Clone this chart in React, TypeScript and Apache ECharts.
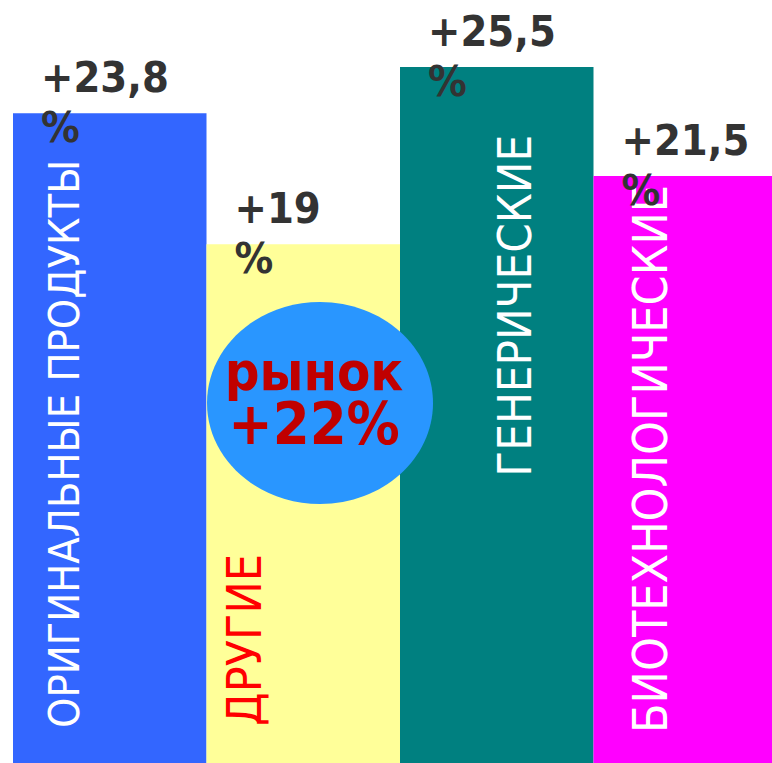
import React, { useEffect, useRef } from "react";
import * as echarts from "echarts";

// Market segments and their growth, %
const categories = [
  "ОРИГИНАЛЬНЫЕ ПРОДУКТЫ",
  "ДРУГИЕ",
  "ГЕНЕРИЧЕСКИЕ",
  "БИОТЕХНОЛОГИЧЕСКИЕ",
];
const growth = [23.8, 19, 25.5, 21.5];
const marketGrowth = 22;
const marketWord = "рынок";

// Styling
const FONT = '"DejaVu Sans Condensed", "DejaVu Sans", sans-serif';
const barColors = ["#3366FF", "#FFFF99", "#008080", "#FF00FF"];
const nameColors = ["#FFFFFF", "#FF0000", "#FFFFFF", "#FFFFFF"];
const nameLayouts: any[] = [
  { position: [51, "100%"], align: "left", padding: [0, 0, 0, 35], fontSize: 43 },
  { position: [37, "100%"], align: "left", padding: [0, 0, 0, 37], fontSize: 48 },
  { position: [114, 68], align: "right", padding: 0, fontSize: 47 },
  { position: [56, "100%"], align: "left", padding: [0, 0, 0, 30], fontSize: 48 },
];

const fmtGrowth = (v: number) => "+" + String(v).replace(".", ",") + "\n%";

export default function App() {
  const ref = useRef<HTMLDivElement>(null);

  useEffect(() => {
    if (!ref.current) return;
    const chart = echarts.init(ref.current, null, { renderer: "svg" });

    const option: any = {
      animation: false,
      backgroundColor: "#FFFFFF",
      grid: {
        left: 13,
        top: 0,
        right: -15,
        bottom: 0,
        containLabel: false,
        outerBoundsMode: "none",
      },
      xAxis: {
        type: "category",
        data: categories,
        show: false,
      },
      yAxis: {
        type: "value",
        min: 0,
        max: 27.95,
        show: false,
        splitLine: { show: false },
      },
      series: [
        {
          name: "segments",
          type: "bar",
          z: 2,
          barGap: "-100%",
          barCategoryGap: 0,
          data: growth.map((v, i) => ({
            value: v,
            itemStyle: { color: barColors[i] },
            label: {
              show: true,
              formatter: categories[i],
              position: nameLayouts[i].position,
              align: nameLayouts[i].align,
              verticalAlign: "middle",
              padding: nameLayouts[i].padding,
              rotate: 90,
              color: nameColors[i],
              fontFamily: FONT,
              fontSize: nameLayouts[i].fontSize,
              fontWeight: "normal",
            },
          })),
        },
        {
          name: "growth",
          type: "bar",
          z: 3,
          silent: true,
          barGap: "-100%",
          barCategoryGap: 0,
          itemStyle: { color: "rgba(0,0,0,0)" },
          data: growth,
          label: {
            show: true,
            position: [28, -61],
            align: "left",
            verticalAlign: "top",
            formatter: (p: any) => fmtGrowth(p.value),
            color: "#333333",
            fontFamily: FONT,
            fontWeight: "bold",
            fontSize: 43,
            lineHeight: 50,
          },
        },
      ],
      graphic: [
        {
          type: "ellipse",
          z: 100,
          shape: { cx: 320, cy: 403, rx: 113, ry: 101 },
          style: { fill: "#2996FF" },
        },
        {
          type: "text",
          z: 101,
          x: 314,
          y: 397,
          style: {
            text: "{a|" + marketWord + "}\n{b|+" + marketGrowth + "%}",
            fill: "#C00000",
            fontFamily: FONT,
            fontWeight: "bold",
            align: "center",
            verticalAlign: "middle",
            textAlign: "center",
            textVerticalAlign: "middle",
            rich: {
              a: { fontSize: 54, lineHeight: 52, fontWeight: "bold", fontFamily: FONT, fill: "#C00000", align: "center" },
              b: { fontSize: 59, lineHeight: 52, fontWeight: "bold", fontFamily: FONT, fill: "#C00000", align: "center" },
            },
          },
        },
      ],
    };

    chart.setOption(option);
    return () => chart.dispose();
  }, []);

  return (
    <div
      ref={ref}
      style={{ position: "fixed", left: 0, top: 0, width: 772, height: 763, background: "#FFFFFF" }}
    />
  );
}
